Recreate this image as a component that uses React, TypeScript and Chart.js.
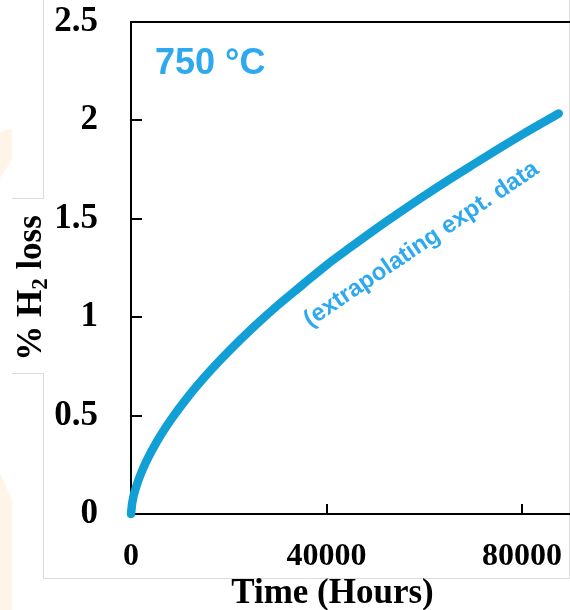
import React, { useEffect, useRef } from "react";
import { Chart, registerables } from "chart.js";

Chart.register(...registerables);

// Time (hours) and % H2 loss
const hours = [0, 250, 1000, 2500, 5000, 8000, 12000, 16000, 20000, 25000, 30000, 35000, 40000, 45000, 50000, 55000, 60000, 65000, 70000, 75000, 80000, 87500];
const h2Loss = [0, 0.057, 0.133, 0.233, 0.355, 0.473, 0.606, 0.722, 0.827, 0.948, 1.06, 1.163, 1.265, 1.357, 1.447, 1.533, 1.617, 1.698, 1.776, 1.853, 1.928, 2.035];

const yTickValues = [0, 0.5, 1, 1.5, 2, 2.5];
const yTickLabels = ["0", "0.5", "1", "1.5", "2", "2.5"];
const xTickValues = [0, 40000, 80000];
const xTickLabels = ["0", "40000", "80000"];

const xMin = 0;
const xMax = 89800;
const yMin = 0;
const yMax = 2.5;

const xTitle = "Time (Hours)";
const yTitleA = "% H";
const yTitleSub = "2";
const yTitleB = " loss";
const tempLabel = "750 °C";
const noteLabel = "(extrapolating expt. data";
const noteAt = { x: 59400, y: 1.37 };

const CURVE = "#129FD6";
const TEXT_BLUE = "#2EA9F0";

const decorPlugin = {
  id: "decor",
  beforeDraw(chart: any) {
    const ctx = chart.ctx;
    ctx.save();
    ctx.fillStyle = "#ffffff";
    ctx.fillRect(0, 0, chart.width, chart.height);
    // faint slide background shapes
    ctx.fillStyle = "#FEF4E8";
    ctx.beginPath();
    ctx.moveTo(0, 132);
    ctx.lineTo(12, 128);
    ctx.lineTo(12, 160);
    ctx.lineTo(0, 178);
    ctx.closePath();
    ctx.fill();
    ctx.beginPath();
    ctx.moveTo(0, 473);
    ctx.lineTo(12, 500);
    ctx.lineTo(12, 610);
    ctx.lineTo(0, 610);
    ctx.closePath();
    ctx.fill();
    ctx.strokeStyle = "#DCDCDC";
    ctx.lineWidth = 1;
    ctx.beginPath();
    ctx.moveTo(43.5, 0);
    ctx.lineTo(43.5, 198.5);
    ctx.moveTo(12, 198.5);
    ctx.lineTo(43.5, 198.5);
    ctx.moveTo(12, 373.5);
    ctx.lineTo(43.5, 373.5);
    ctx.moveTo(43.5, 373.5);
    ctx.lineTo(43.5, 578.5);
    ctx.lineTo(570, 578.5);
    ctx.moveTo(569.5, 0);
    ctx.lineTo(569.5, 578.5);
    ctx.stroke();
    ctx.restore();
  },
  afterDatasetsDraw(chart: any) {
    const ctx = chart.ctx;
    const area = chart.chartArea;
    const xs = chart.scales.x;
    const ys = chart.scales.y;
    ctx.save();
    // top border
    ctx.strokeStyle = "#000";
    ctx.lineWidth = 2;
    ctx.beginPath();
    ctx.moveTo(area.left - 1, area.top);
    ctx.lineTo(area.right, area.top);
    ctx.stroke();
    // inward tick marks
    ctx.beginPath();
    yTickValues.forEach((v) => {
      if (v === yMin || v === yMax) return;
      const py = Math.round(ys.getPixelForValue(v));
      ctx.moveTo(area.left, py);
      ctx.lineTo(area.left + 11, py);
    });
    xTickValues.forEach((v) => {
      if (v === xMin) return;
      const px = Math.round(xs.getPixelForValue(v));
      ctx.moveTo(px, area.bottom);
      ctx.lineTo(px, area.bottom - 10);
    });
    ctx.stroke();

    // x title
    ctx.fillStyle = "#000";
    ctx.font = "bold 35px 'Liberation Serif'";
    ctx.textAlign = "center";
    ctx.textBaseline = "alphabetic";
    ctx.fillText(xTitle, 332.5, 603);

    // y title (rotated, with subscript)
    const bigFont = "bold 35px 'Liberation Serif'";
    const subFont = "bold 23px 'Liberation Serif'";
    ctx.font = bigFont;
    const wA = ctx.measureText(yTitleA).width;
    const wB = ctx.measureText(yTitleB).width;
    ctx.font = subFont;
    const wS = ctx.measureText(yTitleSub).width;
    const total = wA + wS + wB;
    ctx.translate(41, 288);
    ctx.rotate(-Math.PI / 2);
    ctx.textAlign = "left";
    let cx = -total / 2;
    ctx.font = bigFont;
    ctx.fillText(yTitleA, cx, 0);
    cx += wA;
    ctx.font = subFont;
    ctx.fillText(yTitleSub, cx, 6);
    cx += wS;
    ctx.font = bigFont;
    ctx.fillText(yTitleB, cx, 0);
    ctx.setTransform(1, 0, 0, 1, 0, 0);

    // temperature label
    ctx.fillStyle = TEXT_BLUE;
    ctx.font = "bold 36px 'Liberation Sans'";
    ctx.textAlign = "left";
    ctx.textBaseline = "alphabetic";
    ctx.fillText(tempLabel, 155, 73.5);

    // rotated note
    const nx = xs.getPixelForValue(noteAt.x);
    const ny = ys.getPixelForValue(noteAt.y);
    ctx.translate(nx, ny);
    ctx.rotate((-34 * Math.PI) / 180);
    ctx.font = "bold 24px 'Liberation Sans'";
    ctx.textAlign = "center";
    ctx.textBaseline = "middle";
    ctx.fillText(noteLabel, 0, 0);
    ctx.restore();
  },
};

export default function App() {
  const ref = useRef<HTMLCanvasElement | null>(null);

  useEffect(() => {
    document.body.style.margin = "0";
    document.body.style.overflow = "hidden";
    const canvas = ref.current;
    if (!canvas) return;
    const chart = new Chart(canvas, {
      type: "line",
      data: {
        datasets: [
          {
            data: hours.map((h, i) => ({ x: h, y: h2Loss[i] })),
            borderColor: CURVE,
            borderWidth: 8.5,
            borderCapStyle: "round",
            borderJoinStyle: "round",
            pointRadius: 0,
            cubicInterpolationMode: "monotone",
            fill: false,
            clip: false as any,
          },
        ],
      },
      options: {
        animation: false,
        responsive: false,
        devicePixelRatio: 1,
        layout: { autoPadding: false, padding: { top: 22, right: 0, bottom: 0, left: 0 } },
        plugins: {
          legend: { display: false },
          tooltip: { enabled: false },
          title: { display: false },
        },
        scales: {
          x: {
            type: "linear",
            min: xMin,
            max: xMax,
            afterFit: (s: any) => {
              s.height = 96;
              s.paddingLeft = 0;
              s.paddingRight = 0;
              s.paddingTop = 0;
              s.paddingBottom = 0;
            },
            afterBuildTicks: (s: any) => {
              s.ticks = xTickValues.map((v) => ({ value: v }));
            },
            grid: { display: false, drawTicks: false },
            border: { display: true, color: "#000", width: 2 },
            ticks: {
              color: "#000",
              padding: 24,
              font: { family: "'Liberation Serif'", size: 32, weight: "bold" },
              callback: (v: any) => {
                const i = xTickValues.indexOf(Number(v));
                return i >= 0 ? xTickLabels[i] : "";
              },
              maxRotation: 0,
            },
          },
          y: {
            type: "linear",
            min: yMin,
            max: yMax,
            afterFit: (s: any) => {
              s.width = 131;
              s.paddingLeft = 0;
              s.paddingRight = 0;
              s.paddingTop = 0;
              s.paddingBottom = 0;
            },
            afterBuildTicks: (s: any) => {
              s.ticks = yTickValues.map((v) => ({ value: v }));
            },
            grid: { display: false, drawTicks: false },
            border: { display: true, color: "#000", width: 2 },
            ticks: {
              color: "#000",
              padding: 33,
              font: { family: "'Liberation Serif'", size: 35, weight: "bold" },
              callback: (v: any) => {
                const i = yTickValues.indexOf(Number(v));
                return i >= 0 ? yTickLabels[i] : "";
              },
            },
          },
        },
      },
      plugins: [decorPlugin],
    });
    return () => chart.destroy();
  }, []);

  return (
    <div style={{ position: "fixed", left: 0, top: 0, width: 570, height: 610, overflow: "hidden", background: "#fff" }}>
      <canvas ref={ref} width={570} height={610} style={{ display: "block" }} />
    </div>
  );
}
